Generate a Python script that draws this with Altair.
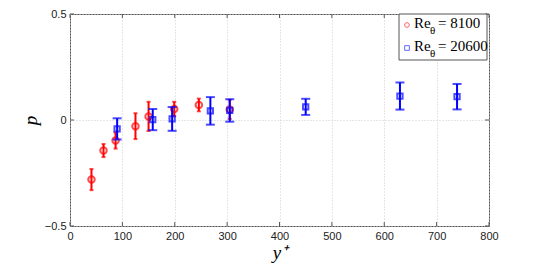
import altair as alt
import pandas as pd

# Re_theta = 8100 (red circles)
red_x = [41, 64, 87, 125, 150, 199, 246, 305]
red_p = [-0.281, -0.144, -0.097, -0.029, 0.017, 0.052, 0.071, 0.050]
red_e = [0.050, 0.031, 0.038, 0.061, 0.069, 0.034, 0.030, 0.045]

# Re_theta = 20600 (blue squares)
blue_x = [90, 158, 195, 268, 305, 450, 630, 739]
blue_p = [-0.042, 0.002, 0.005, 0.043, 0.045, 0.062, 0.113, 0.110]
blue_e = [0.050, 0.050, 0.056, 0.065, 0.053, 0.038, 0.064, 0.060]

x_ticks = [0, 100, 200, 300, 400, 500, 600, 700, 800]
y_ticks = [-0.5, 0, 0.5]

red = pd.DataFrame({"x": red_x, "p": red_p, "lo": [p - e for p, e in zip(red_p, red_e)],
                    "hi": [p + e for p, e in zip(red_p, red_e)]})
blue = pd.DataFrame({"x": blue_x, "p": blue_p, "lo": [p - e for p, e in zip(blue_p, blue_e)],
                     "hi": [p + e for p, e in zip(blue_p, blue_e)]})

W, H = 419, 212
xs = alt.Scale(domain=[0, 800], nice=False)
ys = alt.Scale(domain=[-0.5, 0.5], nice=False)

X = alt.X("x:Q", scale=xs, axis=alt.Axis(values=x_ticks, title="y⁺", grid=True, format="d"))
Y = alt.Y("p:Q", scale=ys, axis=alt.Axis(values=y_ticks, title="p", grid=True, format="~f"))

RED = "#ff0000"
BLUE = "#0000ff"

def series(df, color, shape, size, cap, sw):
    base = alt.Chart(df)
    bars = base.mark_rule(color=color, strokeWidth=sw).encode(
        x=alt.X("x:Q", scale=xs), y=alt.Y("lo:Q", scale=ys), y2="hi:Q")
    top = base.mark_tick(color=color, size=cap, thickness=sw, orient="horizontal").encode(
        x=alt.X("x:Q", scale=xs), y=alt.Y("hi:Q", scale=ys))
    bot = base.mark_tick(color=color, size=cap, thickness=sw, orient="horizontal").encode(
        x=alt.X("x:Q", scale=xs), y=alt.Y("lo:Q", scale=ys))
    pts = base.mark_point(shape=shape, color=color, size=size, strokeWidth=2, filled=False).encode(
        x=alt.X("x:Q", scale=xs), y=alt.Y("p:Q", scale=ys))
    return [bars, top, bot, pts]

axes_base = alt.Chart(red).mark_point(opacity=0).encode(x=X, y=Y)

# inner tick marks (MATLAB style)
xt = pd.DataFrame({"x": x_ticks})
yt = pd.DataFrame({"p": y_ticks})
tick_b = alt.Chart(xt).mark_rule(color="#555", strokeWidth=1).encode(
    x=alt.X("x:Q", scale=xs), y=alt.value(H), y2=alt.value(H - 4))
tick_t = alt.Chart(xt).mark_rule(color="#555", strokeWidth=1).encode(
    x=alt.X("x:Q", scale=xs), y=alt.value(0), y2=alt.value(4))
tick_l = alt.Chart(yt).mark_rule(color="#555", strokeWidth=1).encode(
    y=alt.Y("p:Q", scale=ys), x=alt.value(0), x2=alt.value(4))
tick_r = alt.Chart(yt).mark_rule(color="#555", strokeWidth=1).encode(
    y=alt.Y("p:Q", scale=ys), x=alt.value(W), x2=alt.value(W - 4))

# legend
one = pd.DataFrame({"k": [0]})
leg_box = alt.Chart(one).mark_rect(fill="white", stroke="#555", strokeWidth=1).encode(
    x=alt.value(329), x2=alt.value(417), y=alt.value(0), y2=alt.value(46))
leg_c = alt.Chart(one).mark_point(shape="circle", color=RED, opacity=0.6, size=22, strokeWidth=1).encode(
    x=alt.value(337), y=alt.value(11))
leg_s = alt.Chart(one).mark_point(shape="square", color=BLUE, opacity=0.6, size=22, strokeWidth=1).encode(
    x=alt.value(337), y=alt.value(34))
serif = "Liberation Serif"
def txt(t, x, y, size):
    return alt.Chart(one).mark_text(text=t, font=serif, fontSize=size, align="left",
                                    baseline="alphabetic", color="black").encode(
        x=alt.value(x), y=alt.value(y))
leg_txt = [
    txt("Re", 344, 14, 15), txt("θ", 360, 20, 11), txt("= 8100", 368, 14, 15),
    txt("Re", 344, 37, 15), txt("θ", 360, 43, 11), txt("= 20600", 368, 37, 15),
]

layers = [axes_base, tick_b, tick_t, tick_l, tick_r]
layers += series(red, RED, "circle", 42, 4, 2)
layers += series(blue, BLUE, "square", 28, 9, 2)
layers += [leg_box, leg_c, leg_s] + leg_txt

chart = alt.layer(*layers).properties(
    width=W, height=H,
    autosize=alt.AutoSizeParams(type="none"),
    padding={"left": 62, "top": 6, "right": 40, "bottom": 40},
).configure_view(
    stroke="#555", strokeWidth=1
).configure_axis(
    domain=False, ticks=False, labelFlush=False,
    gridColor="#cccccc", gridDash=[1, 2], gridWidth=1,
    labelFont="Liberation Sans", labelFontSize=11, labelColor="#222", labelPadding=4,
    titleFont=serif, titleFontSize=19, titleFontStyle="italic", titleFontWeight="normal",
    titleColor="black",
).configure_axisX(titlePadding=2).configure_axisY(titlePadding=4)

chart.save("out.html", embed_options={"renderer": "svg", "actions": False})
